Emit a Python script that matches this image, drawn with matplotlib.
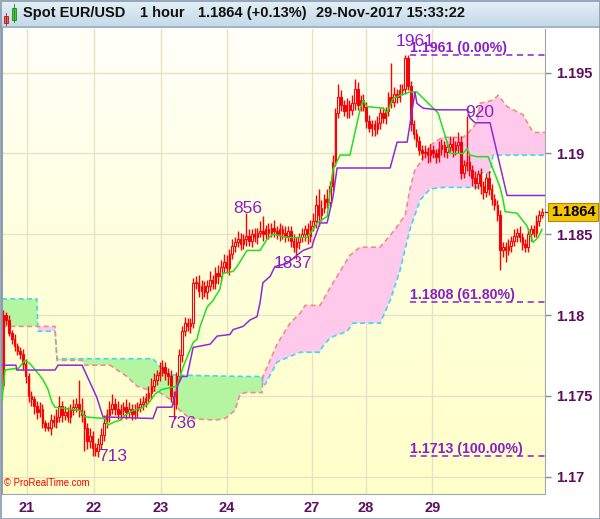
import matplotlib
matplotlib.use('Agg')
import matplotlib.pyplot as plt
import numpy as np
from matplotlib.colors import LinearSegmentedColormap
from matplotlib.patches import Rectangle
from matplotlib.lines import Line2D

plt.rcParams['font.family'] = ['Liberation Sans', 'DejaVu Sans']

# ---------------- data ----------------
first_open = 1.1757
closes = [
    1.1800, 1.1797, 1.1789, 1.1785, 1.1781, 1.1778, 1.1776, 1.1770, 1.1762, 1.1750,
    1.1748, 1.1744, 1.1740, 1.1742, 1.1733, 1.1731, 1.1730, 1.1735, 1.1734, 1.1737,
    1.1744, 1.1738, 1.1740, 1.1737, 1.1741, 1.1743, 1.1745, 1.1741, 1.1738, 1.1730,
    1.1722, 1.1725, 1.1718, 1.1716, 1.1720, 1.1726, 1.1733, 1.1738, 1.1742, 1.1745,
    1.1742, 1.1739, 1.1741, 1.1743, 1.1740, 1.1742, 1.1739, 1.1741, 1.1743, 1.1745,
    1.1746, 1.1749, 1.1752, 1.1756, 1.1760, 1.1763, 1.1765, 1.1768, 1.1764, 1.1762,
    1.1750, 1.1745, 1.1762, 1.1775, 1.1790, 1.1795, 1.1793, 1.1795, 1.1820, 1.1820,
    1.1815, 1.1818, 1.1814, 1.1818, 1.1822, 1.1820, 1.1826, 1.1824, 1.1830, 1.1833,
    1.1829, 1.1838, 1.1843, 1.1845, 1.1847, 1.1844, 1.1847, 1.1849, 1.1846, 1.1850,
    1.1848, 1.1851, 1.1852, 1.1850, 1.1853, 1.1851, 1.1854, 1.1852, 1.1850, 1.1853,
    1.1851, 1.1849, 1.1852, 1.1846, 1.1842, 1.1845, 1.1848, 1.1850, 1.1853, 1.1849,
    1.1855, 1.1858, 1.1868, 1.1862, 1.1866, 1.1872, 1.1870, 1.1880, 1.1895, 1.1925,
    1.1935, 1.1930, 1.1926, 1.1930, 1.1927, 1.1931, 1.1940, 1.1930, 1.1933, 1.1929,
    1.1920, 1.1916, 1.1918, 1.1915, 1.1919, 1.1925, 1.1922, 1.1926, 1.1935, 1.1932,
    1.1937, 1.1935, 1.1939, 1.1940, 1.1959, 1.1942, 1.1918, 1.1912, 1.1908, 1.1902,
    1.1900, 1.1901, 1.1899, 1.1902, 1.1900, 1.1898, 1.1903, 1.1905, 1.1901, 1.1904,
    1.1906, 1.1902, 1.1905, 1.1907, 1.1888, 1.1893, 1.1895, 1.1890, 1.1885, 1.1882,
    1.1887, 1.1880, 1.1876, 1.1885, 1.1878, 1.1872, 1.1868, 1.1862, 1.1840, 1.1842,
    1.1840, 1.1843, 1.1846, 1.1849, 1.1851, 1.1848, 1.1844, 1.1842, 1.1850, 1.1853,
    1.1851, 1.1858, 1.1862, 1.1864]

# upper / lower wick lengths in pips
wick_up = [
    3, 2, 3, 2, 3, 2, 2, 3, 3, 2,
    3, 2, 3, 4, 3, 2, 3, 4, 3, 5,
    6, 3, 4, 3, 4, 5, 4, 15, 8, 3,
    3, 5, 3, 3, 4, 4, 5, 4, 5, 6,
    4, 5, 4, 3, 5, 4, 3, 4, 3, 4,
    4, 3, 4, 5, 4, 3, 6, 4, 3, 3,
    4, 3, 3, 4, 3, 4, 3, 3, 3, 4,
    5, 4, 3, 4, 5, 3, 4, 5, 4, 5,
    4, 3, 4, 3, 5, 4, 3, 14, 4, 3,
    4, 3, 6, 9, 3, 4, 3, 5, 3, 4,
    3, 4, 3, 3, 4, 3, 3, 4, 3, 4,
    4, 5, 6, 10, 5, 3, 6, 3, 4, 3,
    8, 4, 3, 4, 3, 5, 6, 4, 3, 4,
    3, 4, 3, 3, 4, 3, 4, 3, 3, 21,
    4, 3, 4, 3, 2, 2, 3, 3, 3, 3,
    3, 4, 3, 4, 3, 3, 5, 4, 3, 4,
    5, 4, 3, 6, 4, 3, 28, 4, 3, 4,
    3, 4, 3, 3, 4, 3, 3, 3, 3, 3,
    3, 4, 3, 4, 3, 4, 3, 3, 4, 3,
    3, 4, 3, 2]
wick_dn = [
    3, 3, 2, 3, 3, 3, 3, 4, 4, 4,
    4, 5, 4, 3, 3, 3, 2, 4, 3, 4,
    3, 4, 3, 3, 4, 3, 3, 4, 4, 14,
    5, 4, 5, 3, 4, 3, 4, 3, 4, 3,
    4, 3, 4, 3, 4, 3, 4, 3, 4, 3,
    4, 3, 3, 4, 3, 3, 4, 3, 4, 5,
    4, 9, 3, 3, 4, 3, 3, 4, 3, 4,
    4, 5, 3, 4, 3, 4, 4, 5, 3, 4,
    3, 4, 3, 4, 3, 4, 3, 4, 3, 4,
    3, 4, 3, 4, 3, 4, 3, 4, 3, 4,
    4, 4, 3, 4, 3, 7, 4, 3, 4, 5,
    4, 3, 4, 7, 4, 3, 4, 3, 3, 3,
    3, 4, 3, 4, 5, 3, 4, 3, 4, 3,
    4, 3, 5, 4, 3, 4, 3, 4, 3, 4,
    3, 4, 3, 3, 3, 3, 4, 3, 4, 3,
    4, 3, 5, 4, 3, 4, 3, 4, 3, 4,
    3, 4, 3, 5, 4, 3, 4, 4, 5, 4,
    4, 5, 4, 3, 4, 4, 3, 4, 12, 4,
    7, 3, 4, 3, 4, 3, 4, 3, 3, 4,
    3, 3, 3, 2]

# Ichimoku lines (bar index, price)
tenkan_x = [-0.5, 0.6, 4.2, 4.9, 7.7, 9.5, 12.4, 14.2, 16.0, 17.4, 18.5, 27.5, 29.2, 36.4, 37.5,
            40.0, 41.8, 43.6, 46.4, 49.0, 51.8, 54.3, 56.8, 62.2, 63.3, 64.4, 68.0, 69.4, 70.5,
            73.0, 75.1, 77.6, 78.7, 82.3, 83.7, 87.3, 92.0, 94.5, 96.6, 101.7, 106.3, 108.8,
            111.0, 112.4, 116.0, 118.1, 120.7, 124.2, 127.8, 128.9, 130.3, 136.1, 137.5, 139.6,
            142.2, 145.7, 148.2, 155.8, 159.0, 160.1, 164.7, 166.2, 167.2, 169.7, 173.7, 175.1,
            178.0, 179.1, 179.8, 184.1, 187.7, 189.8, 191.6, 193.0]
tenkan_y = [1.1747, 1.1766, 1.1767, 1.1766, 1.1772, 1.1770, 1.1764, 1.1760, 1.1754, 1.1746, 1.1743,
            1.1741, 1.1737, 1.1736, 1.1732, 1.1734, 1.1735, 1.1738, 1.1741, 1.1742, 1.1745,
            1.1751, 1.1754, 1.1756, 1.1762, 1.1768, 1.1783, 1.1785, 1.1793, 1.1805, 1.1809,
            1.1816, 1.1826, 1.1827, 1.1830, 1.1840, 1.1840, 1.1847, 1.1850, 1.1848, 1.1848,
            1.1848, 1.1853, 1.1857, 1.1861, 1.1890, 1.1899, 1.1899, 1.1927, 1.1933, 1.1929,
            1.1928, 1.1925, 1.1934, 1.1936, 1.1938, 1.1938, 1.1925, 1.1907, 1.1900, 1.1900,
            1.1903, 1.1899, 1.1898, 1.1898, 1.1892, 1.1879, 1.1871, 1.1864, 1.1863, 1.1855,
            1.1845, 1.1848, 1.1853]

kijun_x = [-0.5, 4.5, 4.9, 18.5, 19.6, 28.2, 33.5, 35.7, 53.6, 55.1, 60.4, 62.6, 64.0, 65.8, 68.0,
           74.1, 76.6, 81.2, 82.3, 85.9, 88.4, 90.9, 92.0, 93.0, 95.6, 97.3, 101.7, 105.2, 107.4,
           110.6, 111.0, 113.5, 116.0, 118.1, 119.6, 138.6, 141.1, 144.7, 147.5, 148.2, 150.4,
           155.4, 166.2, 167.2, 169.0, 174.4, 180.5, 194.1]
kijun_y = [1.1769, 1.1769, 1.1766, 1.1766, 1.1769, 1.1769, 1.1749, 1.1737, 1.1736, 1.1743, 1.1743,
           1.1757, 1.1762, 1.1762, 1.1780, 1.1782, 1.1787, 1.1788, 1.1791, 1.1793, 1.1797,
           1.1799, 1.1808, 1.1820, 1.1824, 1.1830, 1.1832, 1.1837, 1.1840, 1.1842, 1.1845,
           1.1857, 1.1857, 1.1873, 1.1891, 1.1891, 1.1907, 1.1907, 1.1938, 1.1931, 1.1928,
           1.1927, 1.1927, 1.1922, 1.1919, 1.1919, 1.1874, 1.1874]

spanc_x = [-0.5, 12.0, 12.4, 18.5, 19.2, 53.6, 58.6, 86.6, 92.7, 93.0, 93.8, 98.1, 106.3, 113.5,
           114.2, 117.1, 123.2, 125.3, 135.0, 138.6, 142.2, 145.7, 149.3, 152.9, 157.6, 169.7,
           170.8, 174.4, 175.5, 194.1]
spanc_y = [1.1810, 1.1810, 1.1790, 1.1790, 1.1773, 1.1773, 1.1763, 1.1762, 1.1762, 1.1757, 1.1757,
           1.1771, 1.1777, 1.1777, 1.1780, 1.1786, 1.1790, 1.1795, 1.1795, 1.1809, 1.1828,
           1.1853, 1.1871, 1.1878, 1.1879, 1.1879, 1.1888, 1.1888, 1.1899, 1.1899]

spans_x = [-0.5, 12.0, 18.5, 19.2, 28.2, 29.2, 38.2, 44.3, 47.9, 51.4, 56.1, 59.7, 63.3, 66.9, 75.8,
           79.4, 83.0, 84.8, 86.6, 92.7, 93.0, 98.1, 102.7, 106.3, 108.1, 113.5, 117.1, 121.7,
           124.2, 127.8, 135.0, 140.4, 144.0, 145.7, 147.5, 149.3, 152.9, 157.2, 164.7, 166.2,
           169.7, 170.8, 175.5, 177.3, 180.5, 186.2, 189.8, 194.1]
spans_y = [1.1793, 1.1793, 1.1793, 1.1772, 1.1772, 1.1769, 1.1769, 1.1762, 1.1756, 1.1754, 1.1752,
           1.1748, 1.1741, 1.1736, 1.1735, 1.1736, 1.1741, 1.1751, 1.1752, 1.1752, 1.1762,
           1.1782, 1.1795, 1.1801, 1.1806, 1.1806, 1.1817, 1.1830, 1.1837, 1.1842, 1.1842,
           1.1853, 1.1862, 1.1878, 1.1890, 1.1894, 1.1905, 1.1910, 1.1910, 1.1912, 1.1919,
           1.1931, 1.1933, 1.1936, 1.1929, 1.1924, 1.1913, 1.1913]

day_ticks = [8.46, 32.3, 56.4, 80.2, 110.6, 129.9, 153.7]
day_labels = ['21', '22', '23', '24', '27', '28', '29']
y_ticks = [1.17, 1.175, 1.18, 1.185, 1.19, 1.195]
y_labels = ['1.17', '1.175', '1.18', '1.185', '1.19', '1.195']

fib_levels = [1.1961, 1.1808, 1.1713]
fib_labels = ['1.1961 (0.00%)', '1.1808 (61.80%)', '1.1713 (100.00%)']
fib_start = 145.7

marks = [('1961', 147.5, 1.19691), ('920', 170.8, 1.19251), ('856', 87.7, 1.18657),
         ('1837', 103.8, 1.18317), ('736', 63.7, 1.17332), ('713', 39.3, 1.17128)]

title_parts = [('Spot EUR/USD', 23), ('1 hour', 140), ('1.1864 (+0.13%)', 198),
               ('29-Nov-2017 15:33:22', 316)]

# ---------------- figure ----------------
W, H = 600, 519
fig = plt.figure(figsize=(W / 100, H / 100), dpi=100)
fig.patch.set_facecolor('white')

ax = fig.add_axes([2 / W, 25 / H, 543 / W, 465 / H])
XMIN, XMAX = -0.5, 194.1
YMIN, YMAX = 1.16893, 1.19770

# background gradient
bg = LinearSegmentedColormap.from_list('bg', ['#FFFFC9', '#FFFFDC', '#FFFFF9'])
grad = np.linspace(0, 1, 256).reshape(-1, 1)
ax.imshow(grad, extent=[XMIN, XMAX, YMIN, YMAX], origin='lower', aspect='auto',
          cmap=bg, zorder=0, interpolation='bilinear')

# grid
for t in y_ticks:
    ax.axhline(t, color='#E6E2C6', lw=1, zorder=0.5)
for t in day_ticks:
    ax.axvline(t, color='#E6E2C6', lw=1, zorder=0.5)

# cloud
grid = np.linspace(XMIN, XMAX, 3000)
a = np.interp(grid, spanc_x, spanc_y)
b = np.interp(grid, spans_x, spans_y)
ax.fill_between(grid, a, b, where=a >= b, interpolate=True, color='#B4F5A2', lw=0, zorder=1)
ax.fill_between(grid, a, b, where=b > a, interpolate=True, color='#FFC9EC', lw=0, zorder=1)
ax.plot(spanc_x, spanc_y, color='#3FD8F0', lw=1.2, ls=(0, (3, 2)), zorder=1.5)
ax.plot(spans_x, spans_y, color='#F08C8C', lw=1.2, ls=(0, (3, 2)), zorder=1.5)

# candles
n = len(closes)
xs = np.arange(n)
opens = [first_open] + closes[:-1]
for i in range(n):
    o, c = opens[i], closes[i]
    hi = max(o, c) + wick_up[i] / 10000
    lo = min(o, c) - wick_dn[i] / 10000
    ax.vlines(xs[i], lo, hi, color='#FF0000', lw=1.0, zorder=3)
    up = c >= o
    ax.bar(xs[i], max(abs(c - o), 0.00002), bottom=min(o, c), width=0.55,
           facecolor='#FFFFE8' if up else '#C8102E', edgecolor='#FF0000', lw=0.8, zorder=3.2)

# tenkan / kijun
ax.plot(tenkan_x, tenkan_y, color='#1EE01E', lw=1.1, zorder=4)
ax.plot(kijun_x, kijun_y, color='#8E2BD6', lw=1.1, zorder=4)

# fib lines
fib_col = '#8A1FC8'
for lvl, lab in zip(fib_levels, fib_labels):
    ax.plot([fib_start, XMAX], [lvl, lvl], color=fib_col, lw=1.1, ls=(0, (4, 3)), zorder=5)
    ax.annotate(lab, (fib_start, lvl), xytext=(0, 3), textcoords='offset pixels',
                ha='left', va='baseline', fontsize=10.2, fontweight='bold', color=fib_col, zorder=6)

for txt, xi, yv in marks:
    ax.text(xi, yv, txt, ha='center', va='center', fontsize=12.5, color='#8A1FC8', zorder=6)

ax.set_xlim(XMIN, XMAX)
ax.set_ylim(YMIN, YMAX)
ax.yaxis.tick_right()
ax.set_yticks(y_ticks)
ax.set_yticklabels(y_labels)
ax.set_xticks(day_ticks)
ax.set_xticklabels(day_labels)
ax.tick_params(axis='y', length=4, width=1, color='#8C8C8C', pad=4,
               labelsize=10.5, labelcolor='#5E0E5E')
ax.tick_params(axis='x', length=0, pad=5, labelsize=10.5, labelcolor='#5E0E5E')
for lab in ax.get_xticklabels() + ax.get_yticklabels():
    lab.set_fontweight('bold')
ax.spines['top'].set_visible(False)
ax.spines['left'].set_color('#8FA0B2')
ax.spines['left'].set_linewidth(1.5)
ax.spines['right'].set_color('#A0A6AE')
ax.spines['bottom'].set_color('#A0A6AE')

ax.text(0.004, 0.012, '\u00a9 ProRealTime.com', transform=ax.transAxes, fontsize=6.9,
        color='#FF0000', ha='left', va='bottom', zorder=7)

# title bar
tax = fig.add_axes([0, (H - 28) / H, 1, 28 / H])
tcm = LinearSegmentedColormap.from_list('tb', ['#C3D8E6', '#E4F0F8'])
tax.imshow(grad, extent=[0, 1, 0, 1], origin='lower', aspect='auto', cmap=tcm)
tax.set_xlim(0, 1)
tax.set_ylim(0, 1)
tax.axis('off')
tax.add_line(Line2D([0, 1], [0.02, 0.02], color='#9AAFC0', lw=1.2))
# icon
tax.add_patch(Rectangle((4 / W, 0.18), 4 / W, 0.25, facecolor='#F06060', edgecolor='#A02020', lw=0.6))
tax.add_line(Line2D([6 / W, 6 / W], [0.10, 0.55], color='#A02020', lw=0.6))
tax.add_patch(Rectangle((12 / W, 0.30), 4 / W, 0.40, facecolor='#40D040', edgecolor='#208020', lw=0.6))
tax.add_line(Line2D([14 / W, 14 / W], [0.22, 0.85], color='#208020', lw=0.6))
for txt, px in title_parts:
    tax.text(px / W, 0.40, txt, fontsize=10.5, fontweight='bold', color='#111111',
             ha='left', va='baseline')

# price box for last close
fig.canvas.draw()
py = ax.transData.transform((XMAX, closes[-1]))[1] / H
fig.add_artist(Rectangle((548 / W, py - 9 / H), 50 / W, 18 / H, transform=fig.transFigure,
                         facecolor='#F6C500', edgecolor='#B08A00', lw=0.8, zorder=10))
fig.add_artist(Line2D([545 / W, 548 / W], [py, py], transform=fig.transFigure, color='#444444', lw=1))
fig.text(573 / W, py, '%.4f' % closes[-1], ha='center', va='center', fontsize=10.5,
         fontweight='bold', color='#000000', zorder=11)

# outer border
fig.add_artist(Rectangle((0.5 / W, 0.5 / H), (W - 1) / W, (H - 1) / H, transform=fig.transFigure,
                         facecolor='none', edgecolor='#8A9AAC', lw=1.2, zorder=20))

fig.savefig('out.png', dpi=100)
